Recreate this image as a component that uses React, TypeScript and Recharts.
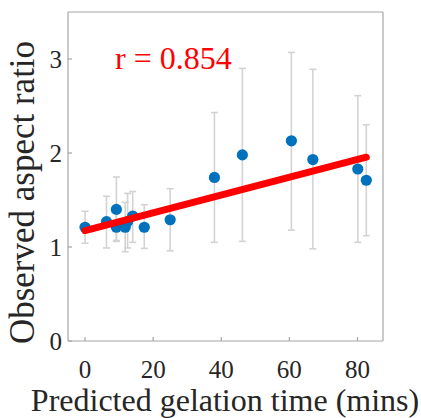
import React from 'react';
import { ComposedChart, Scatter, XAxis, YAxis, ErrorBar } from 'recharts';

// Predicted gelation time (mins) for each sample
const gelTime = [0, 6.3, 9.2, 9.2, 11.8, 12.5, 14.0, 17.4, 25.0, 38.0, 46.2, 60.6, 66.9, 80.1, 82.6];
// Observed aspect ratio: mean, lower and upper extent
const aspectMean = [1.21, 1.27, 1.4, 1.21, 1.21, 1.27, 1.33, 1.21, 1.29, 1.74, 1.98, 2.13, 1.93, 1.83, 1.71];
const aspectLow = [1.04, 0.99, 1.06, 1.07, 0.95, 0.99, 1.05, 0.985, 0.96, 1.05, 1.06, 1.18, 0.98, 1.05, 1.12];
const aspectHigh = [1.38, 1.54, 1.745, 1.38, 1.475, 1.57, 1.59, 1.45, 1.62, 2.43, 2.9, 3.07, 2.89, 2.61, 2.3];

// Linear fit endpoints
const fitX = [0, 82.6];
const fitY = [1.175, 1.955];

const xTicks = [0, 20, 40, 60, 80];
const yTicks = [0, 1, 2, 3];
const xTitle = 'Predicted gelation time (mins)';
const yTitle = 'Observed aspect ratio';
const corrText = 'r = 0.854';

const points = gelTime.map((x, i) => ({
  x,
  y: aspectMean[i],
  err: [aspectMean[i] - aspectLow[i], aspectHigh[i] - aspectMean[i]],
}));
const fitLine = fitX.map((x, i) => ({ x, y: fitY[i] }));

const W = 421;
const H = 418;
const FONT = 'Liberation Serif, Tinos, Times New Roman, Times, serif';
const AXIS = '#a6a6a6';
const TEXT = '#262626';

const XTick = (props: any) => (
  <text x={props.x} y={props.y} textAnchor="middle" style={{ fontFamily: FONT }} fontSize={25} fill={TEXT}>
    {props.payload.value}
  </text>
);

const YTick = (props: any) => (
  <text x={props.x} y={props.y + 8.5} textAnchor="end" style={{ fontFamily: FONT }} fontSize={25} fill={TEXT}>
    {props.payload.value}
  </text>
);

const axisStyle = { stroke: AXIS, strokeWidth: 1.2 };

export default function App() {
  return (
    <div style={{ position: 'absolute', left: 0, top: 0, width: W, height: H, background: '#fff' }}>
      <ComposedChart width={W} height={H} margin={{ top: 11, right: 37, bottom: 0, left: 0 }}>
        <XAxis
          dataKey="x"
          type="number"
          domain={[-5, 87.5]}
          ticks={xTicks}
          allowDataOverflow
          height={77}
          tickSize={-4}
          tickMargin={41}
          tick={XTick}
          axisLine={axisStyle}
          tickLine={axisStyle}
        />
        {/* mirrored box edges with inward ticks */}
        <XAxis
          xAxisId="top"
          dataKey="x"
          orientation="top"
          type="number"
          domain={[-5, 87.5]}
          ticks={xTicks}
          allowDataOverflow
          height={1}
          tickSize={-4}
          tick={false}
          axisLine={axisStyle}
          tickLine={axisStyle}
        />
        <YAxis
          dataKey="y"
          type="number"
          domain={[0, 3.5]}
          ticks={yTicks}
          allowDataOverflow
          width={68}
          tickSize={-4}
          tickMargin={10}
          tick={YTick}
          axisLine={axisStyle}
          tickLine={axisStyle}
        />
        <YAxis
          yAxisId="right"
          dataKey="y"
          orientation="right"
          type="number"
          domain={[0, 3.5]}
          ticks={yTicks}
          allowDataOverflow
          width={1}
          tickSize={-4}
          tick={false}
          axisLine={axisStyle}
          tickLine={axisStyle}
        />
        <Scatter
          data={points}
          dataKey="y"
          fill="#0072BD"
          shape={(p: any) => <circle cx={p.cx} cy={p.cy} r={5.6} fill="#0072BD" />}
          isAnimationActive={false}
        >
          <ErrorBar dataKey="err" direction="y" width={3.5} stroke="#d3d3d3" strokeWidth={1.6} />
        </Scatter>
        {/* fit line uses the mirrored top/right axes (same domains) */}
        <Scatter
          xAxisId="top"
          yAxisId="right"
          data={fitLine}
          dataKey="y"
          fill="#ff0000"
          line={{ stroke: '#ff0000', strokeWidth: 7, strokeLinecap: 'round' }}
          shape={() => <g />}
          isAnimationActive={false}
        />
      </ComposedChart>
      <svg
        width={W}
        height={H}
        style={{ position: 'absolute', left: 0, top: 0, pointerEvents: 'none' }}
      >
        <text x={115} y={68.5} style={{ fontFamily: FONT }} fontSize={32} fill="#ff0000">
          {corrText}
        </text>
        <text x={225} y={411} textAnchor="middle" style={{ fontFamily: FONT }} fontSize={32} fill={TEXT}>
          {xTitle}
        </text>
        <text
          x={0}
          y={0}
          transform="translate(34,192.5) rotate(-90)"
          textAnchor="middle"
          style={{ fontFamily: FONT }}
          fontSize={35}
          fill={TEXT}
        >
          {yTitle}
        </text>
      </svg>
    </div>
  );
}
